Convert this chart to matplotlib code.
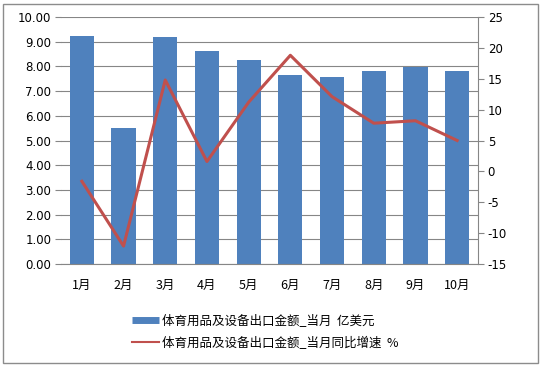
import matplotlib
matplotlib.use('Agg')
import matplotlib.pyplot as plt
from matplotlib.patches import Rectangle
from matplotlib.lines import Line2D
import numpy as np

plt.rcParams['font.family'] = ['Noto Sans CJK SC', 'DejaVu Sans']
plt.rcParams['axes.unicode_minus'] = False

# data
months = ['1月', '2月', '3月', '4月', '5月', '6月', '7月', '8月', '9月', '10月']
export_value = [9.22, 5.50, 9.18, 8.62, 8.25, 7.65, 7.57, 7.82, 7.98, 7.82]
yoy_growth = [-1.6, -12.1, 14.8, 1.6, 11.2, 18.8, 12.1, 7.8, 8.2, 5.0]
bar_label = '体育用品及设备出口金额_当月  亿美元'
line_label = '体育用品及设备出口金额_当月同比增速  %'

fig = plt.figure(figsize=(5.42, 3.66), dpi=100)
# outer border
fig.patches.append(Rectangle((3/542, 3/366), 535/542, 359/366, transform=fig.transFigure,
                             fill=False, edgecolor='#8c8c8c', linewidth=1))

ax = fig.add_axes([61/542, 1 - 264/366, 417/542, 247/366])
x = np.arange(len(months))
ax.bar(x, export_value, width=0.58, color='#4F81BD', zorder=2)
ax.set_ylim(0, 10)
yt = np.arange(0, 10.01, 1)
ax.set_yticks(yt)
ax.set_yticklabels([f'{v:.2f}' for v in yt], family='DejaVu Sans')
ax.set_xlim(-0.5, len(months) - 0.5)
ax.set_xticks(x)
ax.set_xticklabels(months)
ax.grid(axis='y', color='#868686', linewidth=0.8, zorder=0)
for s in ['top', 'left', 'right']:
    ax.spines[s].set_visible(False)
ax.spines['bottom'].set_color('#868686')
ax.tick_params(axis='y', length=4, color='#868686', labelsize=8.5, pad=3)
ax.tick_params(axis='x', length=0, labelsize=9, pad=11)

ax2 = ax.twinx()
ax2.plot(x, yoy_growth, color='#C0504D', linewidth=2.2, zorder=3)
ax2.set_ylim(-15, 25)
rt = np.arange(-15, 26, 5)
ax2.set_yticks(rt)
ax2.set_yticklabels([str(v) for v in rt], family='DejaVu Sans')
for s in ['top', 'left', 'bottom']:
    ax2.spines[s].set_visible(False)
ax2.spines['right'].set_color('#868686')
ax2.tick_params(axis='y', length=4, color='#868686', labelsize=8.5, pad=3)

handles = [Line2D([], [], color='#4F81BD', linewidth=5, solid_capstyle='butt'),
           Line2D([], [], color='#C0504D', linewidth=1.5)]
fig.legend(handles, [bar_label, line_label], loc='upper left',
           bbox_to_anchor=(121/542, 1 - 303/366), frameon=False, fontsize=9,
           handlelength=2.1, handletextpad=0.3, labelspacing=0.75)

fig.savefig('out.png', dpi=100)
